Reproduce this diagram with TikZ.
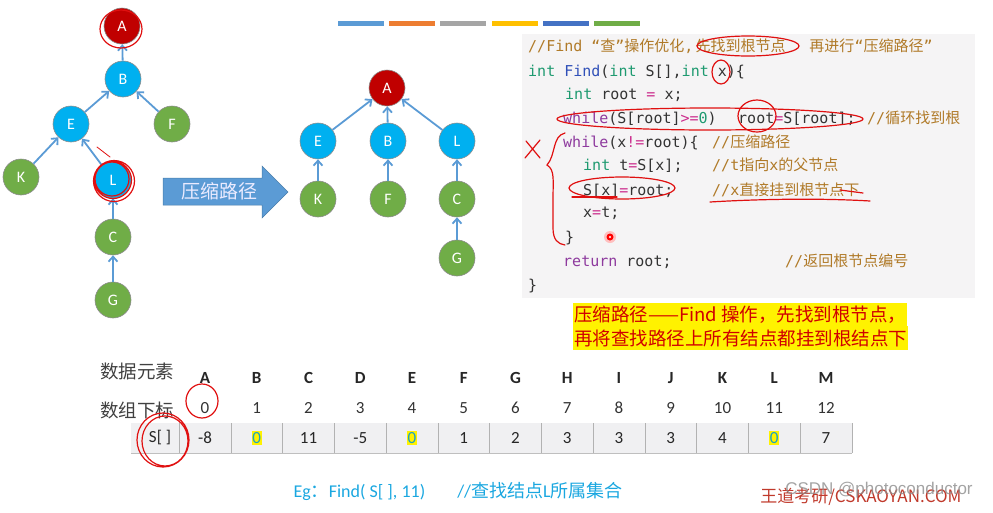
\documentclass[tikz,border=0pt]{standalone}
\usepackage{fontspec}
\setmainfont{Carlito}
\newfontfamily\cjk{Noto Sans CJK SC}
\newfontfamily\codefont{DejaVu Sans Mono}
\newfontfamily\arialfont{Liberation Sans}
\usetikzlibrary{arrows.meta}
\definecolor{nodered}{HTML}{C00000}
\definecolor{nodeblue}{HTML}{00B0F0}
\definecolor{nodegreen}{HTML}{70AD47}
\definecolor{edgeblue}{HTML}{5B9BD5}
\definecolor{codegray}{HTML}{F5F4F5}
\definecolor{kwpurple}{HTML}{8E3A9E}
\definecolor{tygreen}{HTML}{1E9A70}
\definecolor{fnblue}{HTML}{3050B8}
\definecolor{opmagenta}{HTML}{CC2E8E}
\definecolor{cmbrown}{HTML}{B07A28}
\definecolor{inkred}{HTML}{E01010}
\definecolor{cellgray}{HTML}{F0F0F2}
\definecolor{egblue}{HTML}{1AA7E0}
\definecolor{hlteal}{HTML}{1BA1C4}
\definecolor{notered}{HTML}{D00000}
\definecolor{wdred}{HTML}{C0392B}
\definecolor{barblue}{HTML}{5B9BD5}
\definecolor{barorange}{HTML}{ED7D31}
\definecolor{bargray}{HTML}{A5A5A5}
\definecolor{baryellow}{HTML}{FFC000}
\definecolor{bardarkblue}{HTML}{4472C4}
\definecolor{bargreen}{HTML}{70AD47}
\newcommand\kw[1]{\textcolor{kwpurple}{#1}}
\newcommand\ty[1]{\textcolor{tygreen}{#1}}
\newcommand\fn[1]{\textcolor{fnblue}{#1}}
\newcommand\op[1]{\textcolor{opmagenta}{#1}}
\newcommand\cm[1]{\textcolor{cmbrown}{#1}}
\newcommand\zh[1]{{\cjk #1}}

\begin{document}
\begin{tikzpicture}[x=1pt,y=-1pt,
    tnode/.style={circle, minimum size=36pt, inner sep=0pt, draw=black!45, line width=0.6pt,
      text=white, font=\fontsize{16}{18}\selectfont},
    rootnode/.style={fill=nodered},
    midnode/.style={fill=nodeblue},
    leafnode/.style={fill=nodegreen},
    link/.style={edgeblue, line width=1.8pt, -{Straight Barb[length=5pt,width=9pt]}},
    codeline/.style={anchor=base west, inner sep=0pt, text=black!80,
      font=\codefont\fontsize{15}{18}\selectfont},
    colhead/.style={font=\fontsize{17}{19}\selectfont\bfseries, text=black!85},
    colidx/.style={font=\fontsize{17}{19}\selectfont, text=black!80},
    cellval/.style={font=\fontsize{17}{19}\selectfont, text=black!85},
    cellhl/.style={cellval, text=hlteal, fill=yellow, inner xsep=0.5pt, inner ysep=1pt},
    rowlabel/.style={font=\cjk\fontsize{18.5}{20}\selectfont, text=black!75},
    hlnote/.style={anchor=west, fill=yellow, inner xsep=1pt, inner ysep=0pt, minimum height=23.5pt,
      text=notered, font=\cjk\fontsize{18.5}{20}\selectfont},
    ink/.style={inkred, line width=1.2pt, line cap=round}]
  \useasboundingbox (0,0) rectangle (993,512);

  % colour bars at the top
  \foreach \c [count=\i from 0] in {barblue,barorange,bargray,baryellow,bardarkblue,bargreen}
    \fill[\c] (338+51.2*\i,20.5) rectangle +(46,5);

  % tree before compression
  \node[tnode,rootnode] (lA) at (122,26) {A};
  \node[tnode,midnode] (lB) at (123,79) {B};
  \node[tnode,midnode] (lE) at (71,124) {E};
  \node[tnode,leafnode] (lF) at (172,124) {F};
  \node[tnode,leafnode] (lK) at (21,177) {K};
  \node[tnode,midnode] (lL) at (113,180) {L};
  \node[tnode,leafnode] (lC) at (113,237) {C};
  \node[tnode,leafnode] (lG) at (113,300) {G};
  \foreach \c/\p in {lB/lA,lE/lB,lF/lB,lK/lE,lL/lE,lC/lL,lG/lC}
    \draw[link] (\c) -- (\p);

  % big arrow
  \filldraw[fill=edgeblue, draw=edgeblue!80!black, line width=0.5pt]
    (163,178) -- (262,178) -- (262,166) -- (288,192) -- (262,218) -- (262,205) -- (163,205) -- cycle;
  \node[text=white!92!blue, font=\cjk\fontsize{19}{21}\selectfont] (yasuo) at (219,191.5) {压缩路径};

  % tree after compression
  \node[tnode,rootnode] (rA) at (387,88) {A};
  \node[tnode,midnode] (rE) at (318,141) {E};
  \node[tnode,midnode] (rB) at (388,141) {B};
  \node[tnode,midnode] (rL) at (457,141) {L};
  \node[tnode,leafnode] (rK) at (318,199) {K};
  \node[tnode,leafnode] (rF) at (388,199) {F};
  \node[tnode,leafnode] (rC) at (457,199) {C};
  \node[tnode,leafnode] (rG) at (457,258) {G};
  \foreach \c/\p in {rE/rA,rB/rA,rL/rA,rK/rE,rF/rB,rC/rL,rG/rC}
    \draw[link] (\c) -- (\p);

  % code
  \fill[codegray] (522,34) rectangle (975,298);
  \node[codeline] (c1) at (528,51) {\cm{//Find “\zh{查}”\zh{操作优化},\hspace{2pt}\zh{先找到根节点\hspace{24pt}再进行}“\zh{压缩路径}”}};
  \node[codeline] (c2) at (528,76) {\ty{int} \fn{Find}(\ty{int} S[],\ty{int} x)\{};
  \node[codeline] (c3) at (565,99) {\ty{int} root \op{=} x;};
  \node[codeline] (c4) at (563,123) {\kw{while}(S[root]\op{>=}\ty{0})};
  \node[codeline] (c4b) at (738,123) {root\op{=}S[root];};
  \node[codeline] (c4c) at (867,123) {\cm{//\zh{循环找到根}}};
  \node[codeline] (c5) at (563,147) {\kw{while}(x\op{!=}root)\{};
  \node[codeline] (c5c) at (712,147) {\cm{//\zh{压缩路径}}};
  \node[codeline] (c6) at (583,170) {\ty{int} t\op{=}S[x];};
  \node[codeline] (c6c) at (712,170) {\cm{//t\zh{指向}x\zh{的父节点}}};
  \node[codeline] (c7) at (583,195) {S[x]\op{=}root;};
  \node[codeline] (c7c) at (712,195) {\cm{//x\zh{直接挂到根节点下}}};
  \node[codeline] (c8) at (583,217) {x\op{=}t;};
  \node[codeline] (c9) at (565,242) {\}};
  \node[codeline] (c10) at (563,266) {\kw{return} root;};
  \node[codeline] (c10c) at (785,266) {\cm{//\zh{返回根节点编号}}};
  \node[codeline] (c11) at (528,290) {\}};

  % note
  \node[hlnote] (note1) at (573,315) {压缩路径——Find 操作，先找到根节点，};
  \node[hlnote] (note2) at (573,338) {再将查找路径上所有结点都挂到根结点下};

  % table
  \node[rowlabel] (datalabel) at (137,371) {数据元素};
  \node[rowlabel] (idxlabel) at (137,410) {数组下标};
  \fill[cellgray] (131,423) rectangle (852,453);
  \draw[black!25] (131,453) -- (852,453);
  \foreach \i in {0,...,13}
    \draw[black!30] (179+51.75*\i,423) -- (179+51.75*\i,453);
  \node[cellval] (slabel) at (160,438) {S[ ]};
  \foreach \l [count=\i from 0] in {A,B,C,D,E,F,G,H,I,J,K,L,M} {
    \node[colhead] (h\l) at (205+51.75*\i,378) {\l};
    \node[colidx] (i\l) at (205+51.75*\i,408) {\i};
  }
  \foreach \v/\s [count=\i from 0] in {-8/cellval,0/cellhl,11/cellval,-5/cellval,0/cellhl,1/cellval,2/cellval,
      3/cellval,3/cellval,3/cellval,4/cellval,0/cellhl,7/cellval}
    \node[\s] (v\i) at (205+51.75*\i,438) {\v};

  % example line
  \node[anchor=west, text=egblue, font=\fontsize{18}{20}\selectfont] (eg) at (290,491)
    {Eg\zh{：}Find( S[ ], 11)\hspace{32pt}//\zh{查找结点}L\zh{所属集合}};

  % marks
  \node[text=wdred, font=\cjk\fontsize{17}{19}\selectfont] (wdky) at (861,497) {王道考研/CSKAOYAN.COM};
  \node[text=black!45, opacity=0.8, font=\arialfont\fontsize{17}{19}\selectfont] (csdn) at (879,490) {CSDN @photoconductor};

  % red pen strokes
  \draw[ink] (121,29) ellipse [x radius=21, y radius=19];
  \draw[ink] (113,180) circle (18.5) (114,181) circle (20.5) (112,179) circle (17);
  \draw[ink, line width=0.8pt] (97,147) -- (110,157);
  \draw[ink] (748,46) ellipse [x radius=51, y radius=10];
  \draw[ink] (721,72) ellipse [x radius=9, y radius=12];
  \draw[ink] (710,119) ellipse [x radius=153, y radius=11];
  \draw[ink] (757,116) ellipse [x radius=19, y radius=16];
  \draw[ink] (526,141) -- (540,158) (540,140) -- (525,158);
  \draw[ink] (565,133) .. controls (552,136) and (556,155) .. (547,165)
    .. controls (555,170) and (553,180) .. (553,200) -- (553,228)
    .. controls (553,240) and (558,244) .. (565,245);
  \draw[ink] (622,188) ellipse [x radius=53, y radius=11];
  \draw[ink] (572,197) -- (617,197);
  \draw[ink] (710,202) .. controls (760,199) and (820,198) .. (870,201);
  \draw[ink] (840,190) -- (863,193);
  \draw[ink] (202,401) ellipse [x radius=16, y radius=17];
  \draw[ink] (163,440) ellipse [x radius=26, y radius=27] (165,441) ellipse [x radius=23, y radius=25];
  \fill[red!25] (610,237) circle (6);
  \fill[red] (610,237) circle (3.5);
  \fill[white] (610,237) circle (1.2);
\end{tikzpicture}
\end{document}
